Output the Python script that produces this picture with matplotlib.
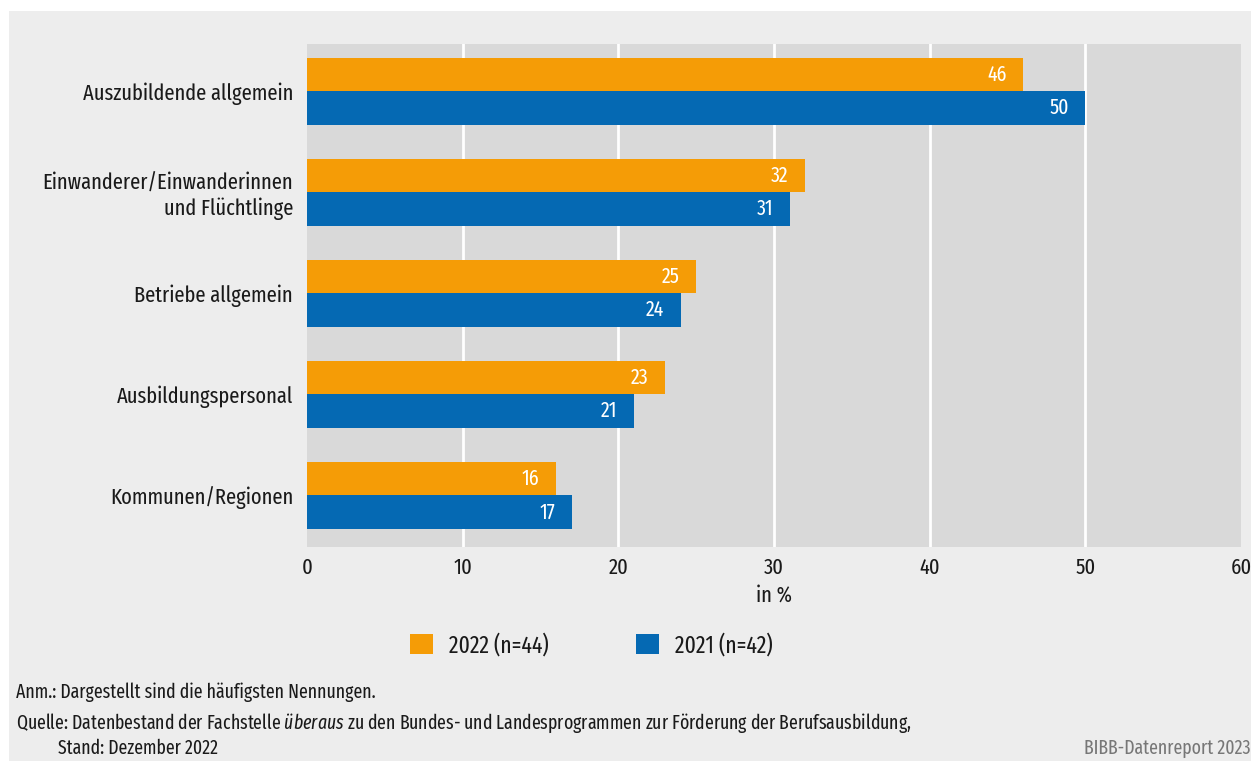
import matplotlib
matplotlib.use("Agg")
import matplotlib.pyplot as plt
from matplotlib.patches import Rectangle
import numpy as np

categories = ["Auszubildende allgemein",
              "Einwanderer/Einwanderinnen\nund Flüchtlinge",
              "Betriebe allgemein",
              "Ausbildungspersonal",
              "Kommunen/Regionen"]
values_2022 = [46, 32, 25, 23, 16]
values_2021 = [50, 31, 24, 21, 17]
series_labels = ["2022 (n=44)", "2021 (n=42)"]
xticks = [0, 10, 20, 30, 40, 50, 60]

ORANGE = "#f59c06"
BLUE = "#0569b3"
BG = "#ededed"
PLOT_BG = "#d9d9d9"
TXT = "#1a1a1a"

FONT = ['Fira Sans Extra Condensed', 'Fira Sans Condensed', 'DejaVu Sans']
plt.rcParams['font.family'] = FONT
plt.rcParams['mathtext.fontset'] = 'custom'
plt.rcParams['mathtext.rm'] = 'Fira Sans Extra Condensed'
plt.rcParams['mathtext.it'] = 'Fira Sans Extra Condensed:italic'

FS = 16
VFS = 15.5

W, H = 1251, 761
fig = plt.figure(figsize=(W / 100, H / 100), dpi=100, facecolor="white")
fig.patches.append(Rectangle((9 / W, 0), 1 - 9 / W, 1 - 11 / H, transform=fig.transFigure,
                             facecolor=BG, edgecolor="none", zorder=-10))

ax = fig.add_axes([307 / W, 1 - 547 / H, (1241 - 307) / W, (547 - 44) / H])
ax.set_facecolor(PLOT_BG)
y = np.arange(len(categories))
bh = 0.33
b1 = ax.barh(y - bh / 2, values_2022, height=bh, color=ORANGE, label=series_labels[0], zorder=3)
b2 = ax.barh(y + bh / 2, values_2021, height=bh, color=BLUE, label=series_labels[1], zorder=3)
for bars, vals in ((b1, values_2022), (b2, values_2021)):
    for rect, v in zip(bars, vals):
        ax.text(v - 1.05, rect.get_y() + rect.get_height() / 2, f"{v}", ha="right", va="center",
                color="white", fontsize=VFS, zorder=4)

ax.set_xlim(0, 60)
ax.set_ylim(len(categories) - 0.49, -0.47)
ax.set_yticks(y)
ax.set_yticklabels(categories, fontsize=FS, color=TXT)
ax.set_xticks(xticks)
ax.set_xticklabels([str(t) for t in xticks], fontsize=FS, color=TXT)
ax.tick_params(axis="both", length=0)
ax.tick_params(axis="y", pad=10)
ax.tick_params(axis="x", pad=7)
for t in xticks[1:-1]:
    ax.axvline(t, color="white", linewidth=2, zorder=1)
for s in ax.spines.values():
    s.set_visible(False)
ax.set_xlabel("in %", fontsize=FS, color=TXT, labelpad=5)

handles = [b1, b2]
leg = fig.legend(handles, series_labels, loc="center", bbox_to_anchor=(591 / W, 1 - 645 / H),
                 ncol=2, frameon=False, fontsize=17, handlelength=0.97, handleheight=0.97,
                 columnspacing=3.7, handletextpad=0.68)
for t in leg.get_texts():
    t.set_color(TXT)

NFS = 13.9
fig.text(16 / W, 1 - 692 / H, "Anm.: Dargestellt sind die häufigsten Nennungen.",
         fontsize=NFS, color=TXT, va="center")
fig.text(16 / W, 1 - 723 / H,
         r"Quelle: Datenbestand der Fachstelle $\it{überaus}$ zu den Bundes- und Landesprogrammen zur Förderung der Berufsausbildung,",
         fontsize=NFS, color=TXT, va="center")
fig.text(58 / W, 1 - 748 / H, "Stand: Dezember 2022", fontsize=NFS, color=TXT, va="center")
fig.text(1250 / W, 1 - 748 / H, "BIBB-Datenreport 2023", fontsize=NFS, color="#777777",
         va="center", ha="right")

fig.savefig("out.png", dpi=100, facecolor=fig.get_facecolor())
